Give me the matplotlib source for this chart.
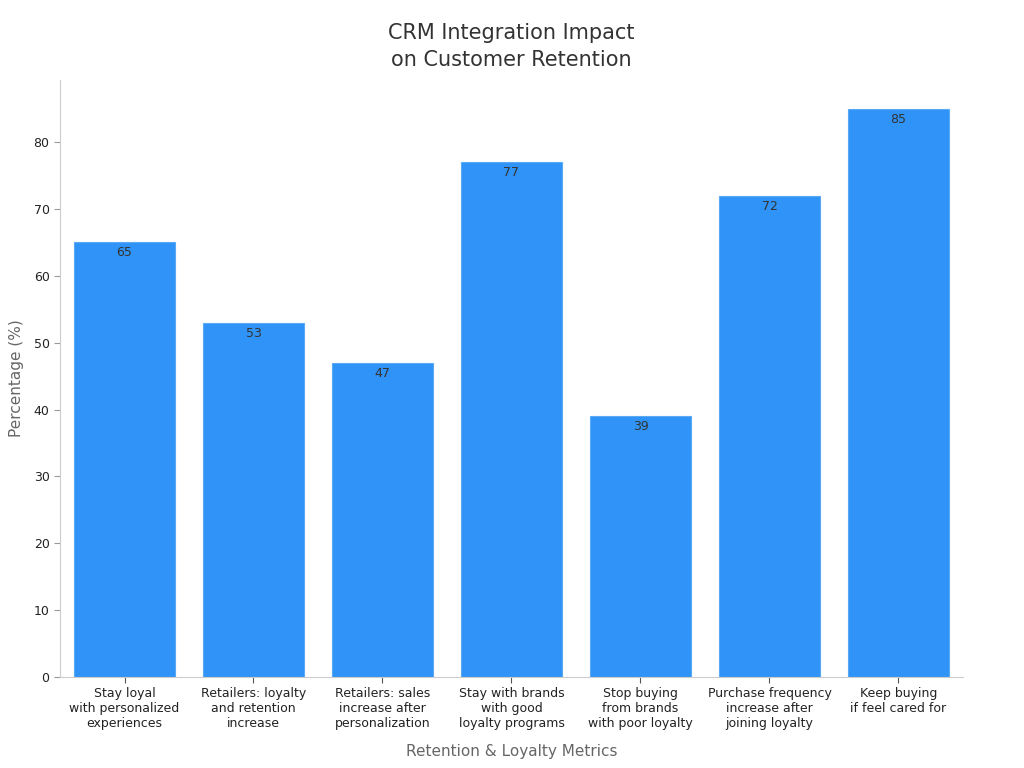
import matplotlib
matplotlib.use("Agg")
import matplotlib.pyplot as plt

# data
categories = [
    "Stay loyal\nwith personalized\nexperiences",
    "Retailers: loyalty\nand retention\nincrease",
    "Retailers: sales\nincrease after\npersonalization",
    "Stay with brands\nwith good\nloyalty programs",
    "Stop buying\nfrom brands\nwith poor loyalty",
    "Purchase frequency\nincrease after\njoining loyalty",
    "Keep buying\nif feel cared for",
]
values = [65, 53, 47, 77, 39, 72, 85]

plt.rcParams['font.family'] = ['DejaVu Sans']

fig = plt.figure(figsize=(10.24, 7.68), dpi=100)
ax = fig.add_axes([0.0586, 0.1185, 0.8818, 0.7773])

x = range(len(values))
bars = ax.bar(x, values, width=0.79, color="#2f93f7", edgecolor="#5aa9f5", linewidth=0.8)

for b, v in zip(bars, values):
    ax.text(b.get_x() + b.get_width() / 2, v - 0.6, str(v),
            ha="center", va="top", fontsize=9, color="#333333")

ax.set_xlim(-0.5, 6.5)
ax.set_ylim(0, 89.3)
ax.set_xticks(list(x))
ax.set_xticklabels(categories, fontsize=9, color="#222222")
ax.set_yticks(range(0, 90, 10))
ax.tick_params(axis="y", labelsize=9, colors="#222222", length=4, color="#999999")
ax.tick_params(axis="x", length=4, color="#555555")

for s in ["top", "right"]:
    ax.spines[s].set_visible(False)
for s in ["left", "bottom"]:
    ax.spines[s].set_color("#cccccc")

ax.set_xlabel("Retention & Loyalty Metrics", fontsize=11, color="#666666", labelpad=10)
ax.set_ylabel("Percentage (%)", fontsize=11, color="#666666", labelpad=7)
ax.set_title("CRM Integration Impact\non Customer Retention", fontsize=15, color="#333333",
             pad=10, linespacing=1.45)

fig.savefig("out.png", dpi=100)
